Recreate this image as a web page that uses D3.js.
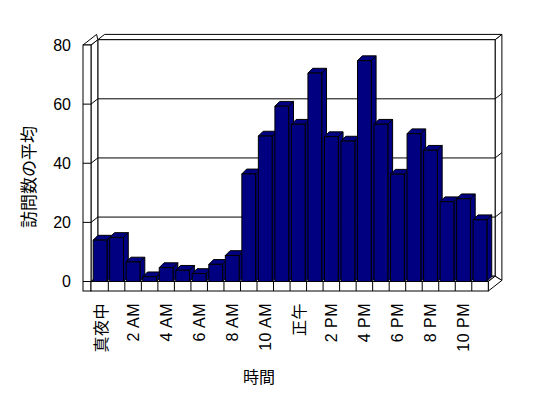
<!DOCTYPE html>
<html>
<head>
<meta charset="utf-8">
<script src="https://cdn.jsdelivr.net/npm/d3@7"></script>
<style>
  body { margin: 0; background: #fff; }
  svg { display: block; }
  text { fill: #000; }
</style>
</head>
<body>
<div id="chart"></div>
<script>
// Data
var hours = ["真夜中", "1 AM", "2 AM", "3 AM", "4 AM", "5 AM", "6 AM", "7 AM", "8 AM", "9 AM", "10 AM", "11 AM",
             "正午", "1 PM", "2 PM", "3 PM", "4 PM", "5 PM", "6 PM", "7 PM", "8 PM", "9 PM", "10 PM", "11 PM"];
var visits = [14.0, 14.9, 6.6, 1.6, 4.7, 3.8, 2.7, 5.8, 8.8, 36.4, 49.2, 59.3,
              53.2, 70.5, 49.0, 47.5, 74.7, 53.2, 36.3, 50.0, 44.4, 27.0, 28.0, 20.9];
var yTicks = [0, 20, 40, 60, 80];
var xTitle = "時間";
var yTitle = "訪問数の平均";

// Layout
var width = 548, height = 398;
var wallLeft = 83, plotLeft = 91, plotRight = 488.3;
var depth = [6.8, -5.3];      // offset from front plane to back wall face
var barDepth = [4.8, -4.8];   // bar top/side offset
var floorBottom = 291;

var svg = d3.select("#chart")
  .append("svg")
  .attr("width", width)
  .attr("height", height);

var yScale = d3.scaleLinear().domain([0, 80]).range([281.5, 45]);

var xScale = d3.scaleBand()
  .domain(d3.range(hours.length))
  .range([91.8, plotRight])
  .paddingInner(0.165)
  .paddingOuter(0.0825);

var edge = d3.scaleLinear().domain([0, hours.length]).range([91.8, plotRight]);

function poly(pts) { return "M" + pts.map(function(p) { return p[0] + "," + p[1]; }).join("L") + "Z"; }

var frame = svg.append("g")
  .attr("fill", "#fff")
  .attr("stroke", "#000")
  .attr("stroke-width", 1);

var y0 = yScale(0), yTop = yScale(80);
var dx = depth[0], dy = depth[1];

// back wall slab: right side and top
frame.append("path").attr("d", poly([
  [plotRight + dx, yTop + dy], [plotRight + 2 * dx, yTop + 2 * dy],
  [plotRight + 2 * dx, floorBottom + 2 * dy], [plotRight + dx, y0 + dy]
]));
frame.append("path").attr("d", poly([
  [plotLeft + dx, yTop + dy], [plotLeft + 2 * dx, yTop + 2 * dy],
  [plotRight + 2 * dx, yTop + 2 * dy], [plotRight + dx, yTop + dy]
]));
// back wall face
frame.append("rect")
  .attr("x", plotLeft + dx).attr("y", yTop + dy)
  .attr("width", plotRight - plotLeft).attr("height", y0 - yTop);

// left wall: inner face, top, front
frame.append("path").attr("d", poly([
  [plotLeft, yTop], [plotLeft + dx, yTop + dy], [plotLeft + dx, y0 + dy], [plotLeft, y0]
]));
frame.append("path").attr("d", poly([
  [wallLeft, yTop], [wallLeft + 2 * dx, yTop + 2 * dy], [plotLeft + dx, yTop + dy], [plotLeft, yTop]
]));
frame.append("rect")
  .attr("x", wallLeft).attr("y", yTop)
  .attr("width", plotLeft - wallLeft).attr("height", floorBottom - yTop);

// floor: top, right side, front
frame.append("path").attr("d", poly([
  [plotLeft, y0], [plotLeft + dx, y0 + dy], [plotRight + dx, y0 + dy], [plotRight, y0]
]));
frame.append("path").attr("d", poly([
  [plotRight, y0], [plotRight + dx, y0 + dy], [plotRight + 2 * dx, floorBottom + 2 * dy], [plotRight, floorBottom]
]));
frame.append("rect")
  .attr("x", plotLeft).attr("y", y0)
  .attr("width", plotRight - plotLeft).attr("height", floorBottom - y0);

// gridlines across back wall, left wall and right edge
var grid = svg.append("g").attr("stroke", "#000").attr("fill", "none");
yTicks.filter(function(t) { return t > 0 && t < 80; }).forEach(function(t) {
  var y = yScale(t);
  grid.append("path").attr("d",
    "M" + wallLeft + "," + y + "L" + plotLeft + "," + y +
    "L" + (plotLeft + dx) + "," + (y + dy) +
    "L" + (plotRight + dx) + "," + (y + dy) +
    "L" + (plotRight + 2 * dx) + "," + (y + 2 * dy));
});
grid.append("line")
  .attr("x1", wallLeft).attr("x2", plotLeft)
  .attr("y1", y0).attr("y2", y0);

// category ticks on floor front
grid.selectAll(".xtick")
  .data(d3.range(1, hours.length))
  .enter().append("line")
  .attr("x1", function(i) { return edge(i); })
  .attr("x2", function(i) { return edge(i); })
  .attr("y1", y0).attr("y2", floorBottom);

// bars
var bars = svg.append("g")
  .attr("fill", "#000080")
  .attr("stroke", "#000")
  .attr("stroke-width", 1)
  .attr("stroke-linejoin", "round");

bars.selectAll("g.bar")
  .data(visits)
  .enter().append("g")
  .attr("class", "bar")
  .each(function(v, i) {
    var g = d3.select(this);
    var x1 = xScale(i), x2 = xScale(i) + xScale.bandwidth();
    var yt = yScale(v);
    var bx = barDepth[0], by = barDepth[1];
    g.append("path").attr("d", poly([[x2, yt], [x2 + bx, yt + by], [x2 + bx, y0 + by], [x2, y0]]));
    g.append("path").attr("d", poly([[x1, yt], [x1 + bx, yt + by], [x2 + bx, yt + by], [x2, yt]]));
    g.append("rect").attr("x", x1).attr("y", yt).attr("width", x2 - x1).attr("height", y0 - yt);
  });

// y tick labels
svg.append("g")
  .selectAll("text")
  .data(yTicks)
  .enter().append("text")
  .attr("x", 71)
  .attr("y", function(d) { return yScale(d); })
  .attr("text-anchor", "end")
  .attr("dominant-baseline", "central")
  .style("font-family", "'Liberation Sans', Arial, sans-serif")
  .style("font-size", "16px")
  .text(function(d) { return d; });

// x tick labels, every other hour
svg.append("g")
  .selectAll("text")
  .data(d3.range(0, hours.length, 2))
  .enter().append("text")
  .attr("transform", function(i) {
    var cx = edge(i + 0.5);
    return "translate(" + cx + ",303) rotate(-90)";
  })
  .attr("text-anchor", "end")
  .attr("dominant-baseline", "central")
  .style("font-family", function(i) {
    return /[A-Z0-9]/.test(hours[i]) ? "'Liberation Sans', Arial, sans-serif" : "'Noto Sans CJK JP', sans-serif";
  })
  .style("font-size", "16px")
  .style("letter-spacing", "0.5px")
  .text(function(i) { return hours[i]; });

// axis titles
svg.append("text")
  .attr("x", 259).attr("y", 376)
  .attr("text-anchor", "middle")
  .attr("dominant-baseline", "central")
  .style("font-family", "'Noto Sans CJK JP', sans-serif")
  .style("font-size", "16px")
  .text(xTitle);

svg.append("text")
  .attr("transform", "translate(27,177) rotate(-90)")
  .attr("text-anchor", "middle")
  .attr("dominant-baseline", "central")
  .style("font-family", "'Noto Sans CJK JP', sans-serif")
  .style("font-size", "17px")
  .text(yTitle);
</script>
</body>
</html>
